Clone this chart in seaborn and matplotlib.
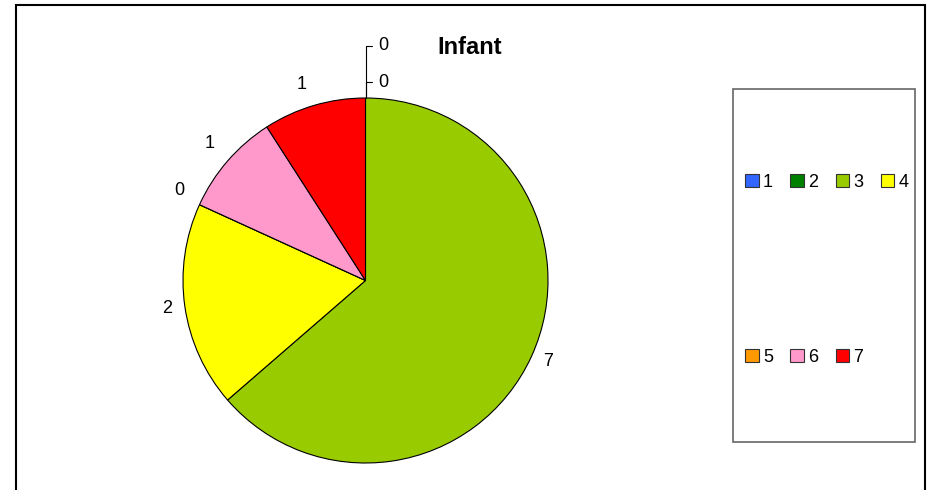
import matplotlib
matplotlib.use('Agg')
import matplotlib.pyplot as plt
from matplotlib.patches import Patch, Rectangle
import seaborn as sns

# data
categories = ['1', '2', '3', '4', '5', '6', '7']
counts = [0, 0, 7, 2, 0, 1, 1]
colors = ['#3366FF', '#008000', '#99CC00', '#FFFF00', '#FF9900', '#FF99CC', '#FF0000']
title = 'Infant'

sns.set_style('white')
plt.rcParams['font.family'] = ['Liberation Sans', 'DejaVu Sans']
plt.rcParams['text.color'] = 'black'

W, H = 928, 490
fig = plt.figure(figsize=(W / 100, H / 100), dpi=100)
palette = sns.color_palette(colors)

# pie axes: centre ~(365, 280) px, radius ~182 px
ax = fig.add_axes([183 / W, (H - 463) / H, 365 / W, 365 / H])

# zero slices sitting at the start angle get leader-line labels instead
labels = [str(v) for v in counts]
top_zeros = []
for i, v in enumerate(counts):
    if v == 0 and sum(counts[:i]) == 0:
        top_zeros.append(i)
        labels[i] = ''

wedges, texts = ax.pie(counts, colors=palette, labels=labels, startangle=90,
                       counterclock=False, labeldistance=1.07,
                       wedgeprops=dict(edgecolor='black', linewidth=0.8),
                       textprops=dict(fontsize=13))
ax.set_xlim(-1, 1)
ax.set_ylim(-1, 1)
ax.set_aspect('equal')

# Excel nudges the upper labels a bit higher
for t in texts:
    x, y = t.get_position()
    if y > 0.3:
        t.set_position((x - 0.02, y + 0.05))

for k, i in enumerate(top_zeros):
    ax.annotate(str(counts[i]), xy=(0, 1), xycoords='data',
                xytext=(9, 11.5 + 26 * k), textcoords='offset points',
                ha='left', va='center', fontsize=13,
                arrowprops=dict(arrowstyle='-', color='black', lw=0.8,
                                shrinkA=2, shrinkB=0,
                                connectionstyle='angle,angleA=0,angleB=90,rad=0'))

fig.text(470 / W, 1 - 47 / H, title, ha='center', va='center',
         fontsize=17, fontweight='bold')

# legend: two rows inside a tall grey box
handles = [Patch(facecolor=c, edgecolor='#333333', linewidth=0.8) for c in palette]
order = [0, 4, 1, 5, 2, 6, 3]
fig.legend([handles[i] for i in order], [categories[i] for i in order],
           loc='upper left', bbox_to_anchor=(736 / W, 1 - 165 / H),
           ncol=4, frameon=False, fontsize=13, borderpad=0,
           handlelength=0.75, handleheight=0.75, handletextpad=0.25,
           columnspacing=0.95, labelspacing=8.75)
fig.patches.append(Rectangle((733 / W, 1 - 442 / H), 182 / W, 353 / H,
                             transform=fig.transFigure, fill=False,
                             edgecolor='#666666', linewidth=1.2))

# outer frame of the chart area
fig.patches.append(Rectangle((16 / W, -0.05), 909 / W, 1.05 - 5 / H,
                             transform=fig.transFigure, fill=False,
                             edgecolor='black', linewidth=1.5))

fig.savefig('out.png', dpi=100)
